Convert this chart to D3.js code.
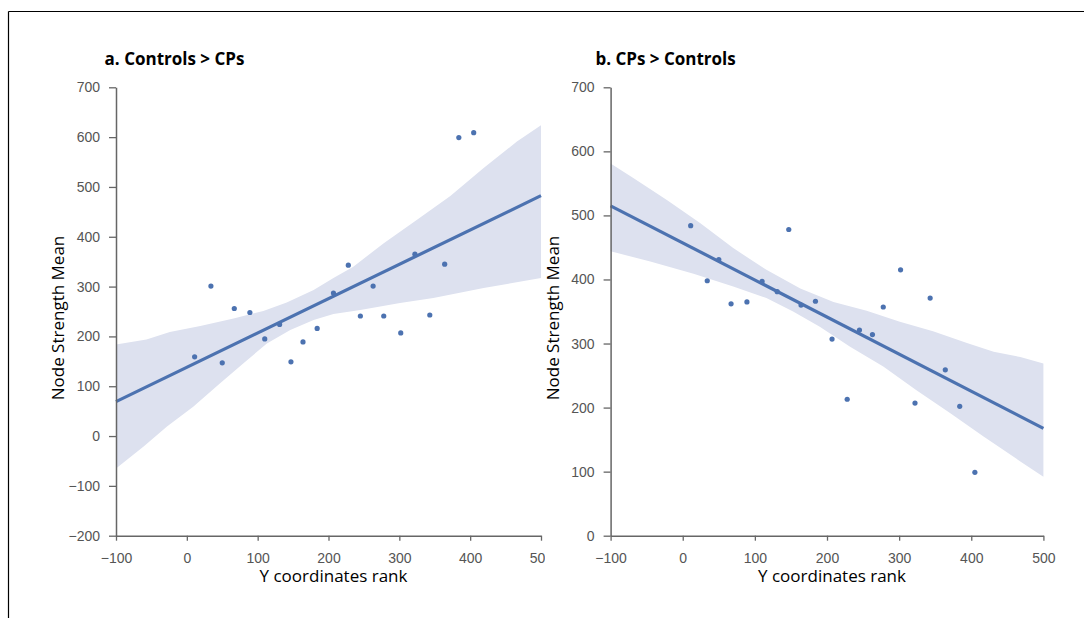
<!DOCTYPE html>
<html>
<head>
<meta charset="utf-8">
<script src="https://cdn.jsdelivr.net/npm/d3@7"></script>
<style>
  body { margin: 0; background: #fff; }
  svg { display: block; }
</style>
</head>
<body>
<div id="chart"></div>
<script>
// ranks shared by both panels (x values of the dots)
var ranks = [11, 34, 50, 67, 89, 110, 131, 147, 164, 184, 207, 228, 245, 263, 278, 302, 322, 343, 364, 384, 405];

// panel a: Controls > CPs
var strengthA = [159, 301, 147, 256, 248, 195, 224, 149, 189, 216, 287, 343, 241, 301, 241, 207, 365, 243, 345, 599, 609];
// panel b: CPs > Controls
var strengthB = [484, 398, 431, 362, 365, 397, 381, 478, 360, 366, 307, 213, 321, 314, 357, 415, 207, 371, 259, 202, 99];

// fitted regression line, read at both ends of the x range
var fitX = [-100, 500];
var fitA = [69, 482.5];
var fitB = [515, 167.6];

// confidence band edges (x, value)
var bandAUpper = [[-100, 184], [-57, 194], [-24, 209], [19, 221], [66, 236], [108, 251], [141, 268], [179, 293],
  [207, 317], [235, 340], [278, 387], [325, 434], [372, 482], [419, 538], [466, 591], [500, 624]];
var bandALower = [[-100, -65], [-61, -21], [-28, 19], [9, 59], [47, 106], [80, 146], [113, 186], [146, 213],
  [179, 233], [207, 245], [245, 253], [301, 267], [348, 277], [419, 297], [500, 317]];
var bandBUpper = [[-100, 581], [-68, 558], [-22, 524], [24, 488], [70, 449], [116, 415], [163, 386], [209, 365],
  [255, 351], [301, 334], [347, 319], [394, 301], [431, 287], [468, 279], [500, 269]];
var bandBLower = [[-100, 444], [-45, 428], [15, 409], [70, 389], [116, 371], [153, 350], [190, 326], [232, 295],
  [278, 264], [324, 227], [371, 191], [417, 155], [468, 116], [500, 92]];

var xTicks = [-100, 0, 100, 200, 300, 400, 500];
var yTicksA = [-200, -100, 0, 100, 200, 300, 400, 500, 600, 700];
var yTicksB = [0, 100, 200, 300, 400, 500, 600, 700];

var blue = "#4c72b0";
var bandColor = "#dde1ef";

var svg = d3.select("#chart")
    .append("svg")
    .attr("width", 1084)
    .attr("height", 618);

// frame lines (top and left only)
svg.append("line")
    .attr("x1", 8.5).attr("x2", 1084).attr("y1", 11.5).attr("y2", 11.5)
    .attr("stroke", "#000").attr("stroke-width", 1.2);
svg.append("line")
    .attr("x1", 8.5).attr("x2", 8.5).attr("y1", 11.5).attr("y2", 618)
    .attr("stroke", "#000").attr("stroke-width", 1.2);

// clip for the left panel (its last tick label is cut off in the original)
svg.append("clipPath").attr("id", "clipA")
  .append("rect").attr("x", 0).attr("y", 0).attr("width", 545).attr("height", 618);

function drawPanel(cfg) {
    var g = svg.append("g");
    if (cfg.clip) g.attr("clip-path", "url(#" + cfg.clip + ")");

    var x = d3.scaleLinear().domain([-100, 500]).range([cfg.left, cfg.right]);
    var y = d3.scaleLinear().domain(cfg.yDomain).range([535.7, 87.3]);

    // confidence band
    var pts = cfg.upper.concat(cfg.lower.slice().reverse());
    var poly = d3.line().x(d => x(d[0])).y(d => y(d[1]));
    g.append("path")
        .attr("d", poly(pts) + "Z")
        .attr("fill", bandColor)
        .attr("stroke", "none");

    // dots
    g.selectAll(null)
        .data(ranks.map((r, i) => [r, cfg.values[i]]))
        .enter()
        .append("circle")
        .attr("cx", d => x(d[0]))
        .attr("cy", d => y(d[1]))
        .attr("r", 2.6)
        .attr("fill", blue);

    // regression line
    g.append("path")
        .attr("d", d3.line().x(d => x(d[0])).y(d => y(d[1]))(fitX.map((v, i) => [v, cfg.fit[i]])))
        .attr("fill", "none")
        .attr("stroke", blue)
        .attr("stroke-width", 3.2);

    // axes
    var xAxis = d3.axisBottom(x).tickValues(xTicks).tickSize(5).tickSizeOuter(0).tickPadding(12);
    var yAxis = d3.axisLeft(y).tickValues(cfg.yTicks).tickSize(7).tickSizeOuter(0).tickPadding(9);

    var gx = g.append("g")
        .attr("transform", "translate(0, 535.7)")
        .call(xAxis);
    var gy = g.append("g")
        .attr("transform", `translate(${cfg.left}, 0)`)
        .call(yAxis);

    [gx, gy].forEach(a => {
        a.select(".domain").attr("stroke", "#666").attr("stroke-width", 1.5);
        a.selectAll(".tick line").attr("stroke", "#666").attr("stroke-width", 1.3);
        a.selectAll(".tick text")
            .attr("fill", "#555")
            .attr("font-family", "Liberation Sans, Arial, sans-serif")
            .attr("font-size", 14);
    });

    // titles
    g.append("text")
        .attr("x", cfg.titleX)
        .attr("y", 65)
        .attr("font-family", "Open Sans, sans-serif")
        .attr("font-weight", "bold")
        .attr("font-size", 17)
        .attr("fill", "#000")
        .text(cfg.title);

    g.append("text")
        .attr("x", (cfg.left + cfg.right) / 2 + 5)
        .attr("y", 582)
        .attr("text-anchor", "middle")
        .attr("font-family", "Open Sans, sans-serif")
        .attr("font-size", 17)
        .attr("fill", "#000")
        .text("Y coordinates rank");

    g.append("text")
        .attr("transform", `translate(${cfg.left - 52}, 318) rotate(-90)`)
        .attr("text-anchor", "middle")
        .attr("font-family", "Open Sans, sans-serif")
        .attr("font-size", 17)
        .attr("fill", "#000")
        .text("Node Strength Mean");
}

drawPanel({
    left: 116, right: 541, yDomain: [-200, 700], yTicks: yTicksA,
    values: strengthA, fit: fitA, upper: bandAUpper, lower: bandALower,
    title: "a. Controls > CPs", titleX: 104.6, clip: "clipA"
});

drawPanel({
    left: 610.6, right: 1043.4, yDomain: [0, 700], yTicks: yTicksB,
    values: strengthB, fit: fitB, upper: bandBUpper, lower: bandBLower,
    title: "b. CPs > Controls", titleX: 595.4
});
</script>
</body>
</html>
